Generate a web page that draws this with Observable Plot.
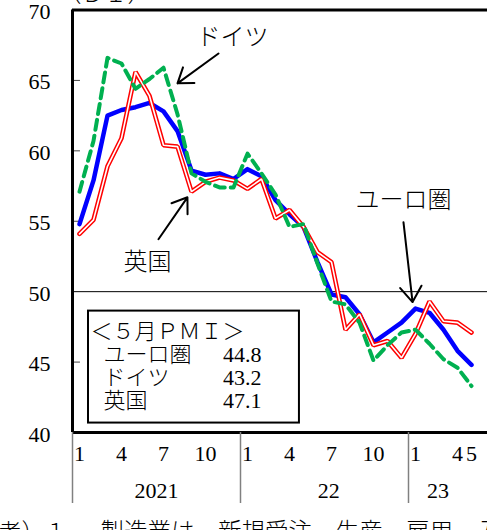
<!DOCTYPE html>
<html><head><meta charset="utf-8">
<script src="https://cdn.jsdelivr.net/npm/d3@7"></script>
<script src="https://cdn.jsdelivr.net/npm/@observablehq/plot@0.6"></script>
<style>body{margin:0;background:#fff;} svg{display:block;}</style>
</head><body><div id="chart"></div>
<script>
// months Jan 2021 .. May 2023 (index 0..28)
const monthLabels = ["1","","","4","","","7","","","10","","",
                     "1","","","4","","","7","","","10","","",
                     "1","","","4","5"];
const years = ["2021","22","23"];
const yearStart = [0,12,24];
const yearCenter = [6,18.3,26.1];
const yTicks = [40,45,50,55,60,65,70];
const euro = [54.8,57.9,62.5,62.9,63.1,63.4,62.8,61.4,58.6,58.3,58.4,58.0,
              58.7,58.2,56.5,55.5,54.6,52.1,49.8,49.6,48.4,46.4,47.1,47.8,
              48.8,48.5,47.3,45.8,44.8];
const germany = [57.1,60.7,66.6,66.2,64.4,65.1,65.9,62.6,58.4,57.8,57.4,57.4,
                 59.8,58.4,56.9,54.6,54.8,52.0,49.3,49.1,47.8,45.1,46.2,47.1,
                 47.3,46.3,45.2,44.6,43.3];
const uk = [54.1,55.1,58.9,60.9,65.6,63.9,60.4,60.3,57.1,57.8,58.1,57.9,
            57.3,58.0,55.2,55.8,54.6,52.8,52.1,47.3,48.4,46.2,46.5,45.3,
            47.0,49.3,47.9,47.8,47.1];
const legendTitle = "＜５月ＰＭＩ＞";
const legendNames = ["ユーロ圏","ドイツ","英国"];
const legendValues = ["44.8","43.2","47.1"];
const unitLabel = "（ＤＩ）";
const note1 = "（備考）１．";
const note2 = "製造業は、新規受注、生産、雇用、入荷";

const serif = "'Liberation Serif','Noto Sans CJK JP',serif";
const jp = "'Noto Sans CJK JP',sans-serif";

const series = (arr) => arr.map((v,i)=>({x:i+0.5, y:v}));

// annotation placements (in month-index / DI units)
const annLabels = [
  {x:11.43, y:68.05, t:"ドイツ"},
  {x:5.36, y:52.09, t:"英国"},
  {x:23.64, y:56.49, t:"ユーロ圏"}
];
const annArrows = [
  {x1:10.43, y1:66.91, x2:7.5, y2:64.79},
  {x1:6.14, y1:53.72, x2:8.21, y2:56.70},
  {x1:23.64, y1:54.93, x2:24.29, y2:49.26}
];
const legendRows = [45.49, 43.90, 42.27];

const plot = Plot.plot({
  width: 487, height: 530,
  marginLeft: 72, marginRight: 0, marginTop: 9.5, marginBottom: 98,
  x: {domain:[0,30], range:[72,492], axis:null},
  y: {domain:[40,70], range:[432,9.5], axis:null},
  style: {fontFamily: serif, background:"white", overflow:"visible"},
  marks: [
    Plot.ruleY([50], {x1:0, x2:30, stroke:"black", strokeWidth:1}),
    Plot.ruleY(yTicks.filter(v=>v!==50 && v!==40 && v!==70), {x1:0, x2:0.57, stroke:"#444", strokeWidth:1}),
    Plot.line(series(euro), {x:"x", y:"y", stroke:"#0000ff", strokeWidth:4.5, strokeLinejoin:"round"}),
    Plot.line(series(uk), {x:"x", y:"y", stroke:"#ff0000", strokeWidth:4.6, strokeLinejoin:"miter"}),
    Plot.line(series(uk), {x:"x", y:"y", stroke:"#ffffff", strokeWidth:1.6, strokeLinejoin:"miter"}),
    Plot.line(series(germany), {x:"x", y:"y", stroke:"#00b050", strokeWidth:4, strokeDasharray:"10,6"}),
    // frame
    Plot.ruleX([0], {y1:40, y2:70, stroke:"black", strokeWidth:3}),
    Plot.ruleY([70, 40], {x1:0, x2:30, stroke:"black", strokeWidth:3}),
    // year separators
    Plot.ruleX(yearStart, {y1:40, y2:34.96, stroke:"#808080", strokeWidth:1.5}),
    // y labels
    Plot.text(yTicks, {x:0, y:d=>d, text:d=>String(d), dx:-22, dy:2, textAnchor:"end", fontSize:22, fill:"black"}),
    // month labels
    Plot.text(monthLabels.map((t,i)=>({x:i+0.5,t})).filter(d=>d.t), {x:"x", y:40, text:"t", dy:21, fontSize:22, fill:"black"}),
    // year labels
    Plot.text(years.map((t,i)=>({x:yearCenter[i],t})), {x:"x", y:40, text:"t", dy:58, fontSize:22, fill:"black"}),
    // legend box
    Plot.rect([0], {x1:1.143, x2:16.21, y1:40.67, y2:48.62, fill:"white", stroke:"black", strokeWidth:2}),
    Plot.text([legendTitle], {x:1.29, y:47.12, text:d=>d, textAnchor:"start", fontSize:22, fontFamily:jp, fontWeight:300, fill:"black"}),
    Plot.text(legendNames.map((t,i)=>({t,y:legendRows[i]})), {x:2.21, y:"y", text:"t", textAnchor:"start", fontSize:22, fontFamily:jp, fontWeight:300, fill:"black"}),
    Plot.text(legendValues.map((t,i)=>({t,y:legendRows[i]})), {x:10.75, y:"y", text:"t", textAnchor:"start", fontSize:22, letterSpacing:1.5, fill:"black"}),
    // annotations
    Plot.text(annLabels, {x:"x", y:"y", text:"t", fontSize:24, fontFamily:jp, fontWeight:300, fill:"black"}),
    Plot.arrow(annArrows, {x1:"x1", y1:"y1", x2:"x2", y2:"y2", stroke:"black", strokeWidth:2, headLength:14, headAngle:70}),
    // unit label and notes
    Plot.text([unitLabel], {x:0, y:70, text:d=>d, dx:-14, dy:-15, textAnchor:"start", fontSize:23, fontFamily:jp, fontWeight:300, fill:"black"}),
    Plot.text([note1], {x:0, y:40, text:d=>d, dx:-120, dy:100, textAnchor:"start", fontSize:23, fontFamily:jp, fontWeight:300, fill:"black"}),
    Plot.text([note2], {x:0, y:40, text:d=>d, dx:28, dy:100, textAnchor:"start", fontSize:23.5, fontFamily:jp, fontWeight:300, fill:"black"})
  ]
});
document.getElementById("chart").appendChild(plot);
</script>
</body></html>
